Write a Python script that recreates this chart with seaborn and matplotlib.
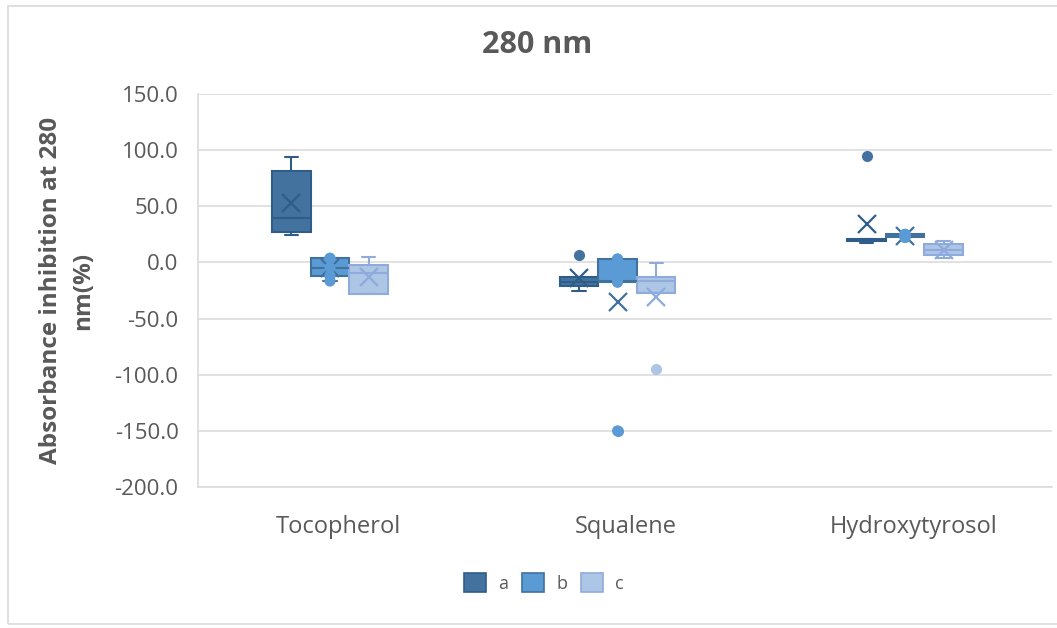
import matplotlib
matplotlib.use("Agg")
import matplotlib.pyplot as plt
import seaborn as sns
import pandas as pd
import numpy as np
from matplotlib.patches import Rectangle

categories = ["Tocopherol", "Squalene", "Hydroxytyrosol"]
series = ["a", "b", "c"]

toc_a = [24.1, 27.4, 39.8, 81.4, 93.6]
toc_b = [-16.6, -11.8, -4.7, 3.7, 3.7]
toc_c = [-28.5, -28.1, -9.7, -2.3, 4.5]
squ_a = [-25.5, -20.7, -17.2, -13.3, 6.6]
squ_b = [-150.0, -17.7, -16.3, 3.0, 3.0]
squ_c = [-95.0, -27.5, -16.3, -12.7, -0.8]
hyd_a = [17.5, 19.3, 20.3, 21.1, 95.0]
hyd_b = [22.3, 22.3, 23.5, 25.0, 25.0]
hyd_c = [4.0, 6.6, 11.0, 16.4, 19.0]

yticks = [150, 100, 50, 0, -50, -100, -150, -200]

groups = {
    ("Tocopherol", "a"): toc_a, ("Tocopherol", "b"): toc_b, ("Tocopherol", "c"): toc_c,
    ("Squalene", "a"): squ_a, ("Squalene", "b"): squ_b, ("Squalene", "c"): squ_c,
    ("Hydroxytyrosol", "a"): hyd_a, ("Hydroxytyrosol", "b"): hyd_b, ("Hydroxytyrosol", "c"): hyd_c,
}
rows = []
for (cat, s), vals in groups.items():
    for v in vals:
        rows.append({"category": cat, "series": s, "value": v})
df = pd.DataFrame(rows)

face = {"a": "#44729F", "b": "#5B9BD5", "c": "#ADC6E5"}
edge = {"a": "#2F5D8A", "b": "#41719C", "c": "#8FAADC"}
text_color = "#595959"

sns.set_theme(style="white")
plt.rcParams["font.family"] = ["Open Sans", "DejaVu Sans"]

fig = plt.figure(figsize=(10.57, 6.28), dpi=100)
ax = fig.add_axes([198 / 1057, 1 - 487 / 628, (1052 - 198) / 1057, (487 - 94) / 628])

box_w = 0.402
sns.boxplot(data=df, x="category", y="value", hue="series", order=categories,
            hue_order=series, palette=face, width=box_w, gap=0, dodge=True,
            showmeans=True, whis=1.5, linewidth=1.5, ax=ax, legend=False,
            meanprops=dict(marker="x", markersize=13, markeredgewidth=1.6),
            flierprops=dict(marker="o", markersize=7))

for cont, s in zip(ax.containers, series):
    ec = edge[s]
    for b in cont.boxes:
        b.set_edgecolor(ec)
        b.set_facecolor(face[s])
    for ln in list(cont.medians) + list(cont.whiskers):
        ln.set_color(ec)
    for ln in cont.caps:
        ln.set_color(ec)
        xd = np.asarray(ln.get_xdata(), dtype=float)
        c = xd.mean()
        half = (box_w / 3) * 0.17
        ln.set_xdata([c - half, c + half])
    for ln in cont.means:
        ln.set_markeredgecolor(ec)
        ln.set_markerfacecolor(ec)
    for ln in cont.fliers:
        ln.set_markerfacecolor(face[s])
        ln.set_markeredgecolor(face[s])

# inner points for series b
sub = df[df["series"] == "b"]
sns.stripplot(data=sub, x="category", y="value", hue="series", order=categories,
              hue_order=series, palette=face, dodge=True, jitter=False, size=8,
              linewidth=0, ax=ax, legend=False)

ax.set_ylim(-200, 150)
ax.set_xlim(-0.459, 2.511)
ax.set_yticks(yticks)
ax.set_yticklabels([f"{t:.1f}" for t in yticks], fontsize=16, color=text_color)
ax.set_xticks([i + 0.03 for i in range(len(categories))])
ax.set_xticklabels(categories, fontsize=17, color=text_color)
ax.tick_params(axis="x", length=0, pad=20)
ax.tick_params(axis="y", length=0, pad=14)
ax.grid(axis="y", color="#D9D9D9", linewidth=1.1)
ax.set_axisbelow(True)
for side in ["top", "right"]:
    ax.spines[side].set_visible(False)
for side in ["left", "bottom"]:
    ax.spines[side].set_color("#D9D9D9")
    ax.spines[side].set_linewidth(1.1)
ax.set_xlabel("")
ax.set_ylabel("Absorbance inhibition at 280\nnm(%)", fontsize=17.5, fontweight="bold",
              color=text_color, labelpad=14, linespacing=1.45)

fig.text(537 / 1057, 1 - 45 / 628, "280 nm", ha="center", va="center", fontsize=22,
         fontweight="bold", color=text_color)

# legend
handles = [Rectangle((0, 0), 1, 1, facecolor=face[s], edgecolor=edge[s], linewidth=1.2) for s in series]
leg = fig.legend(handles, series, loc="center", bbox_to_anchor=(544 / 1057, 1 - 583 / 628),
                 ncol=3, frameon=False, fontsize=13, handlelength=1.2, handleheight=1.2,
                 columnspacing=0.75, handletextpad=0.7, labelcolor=text_color)

fig.patches.append(Rectangle((8 / 1057, 4 / 628), 1.2, 618 / 628, transform=fig.transFigure,
                             fill=False, edgecolor="#D9D9D9", linewidth=1.2))

fig.savefig("out.png", dpi=100)
